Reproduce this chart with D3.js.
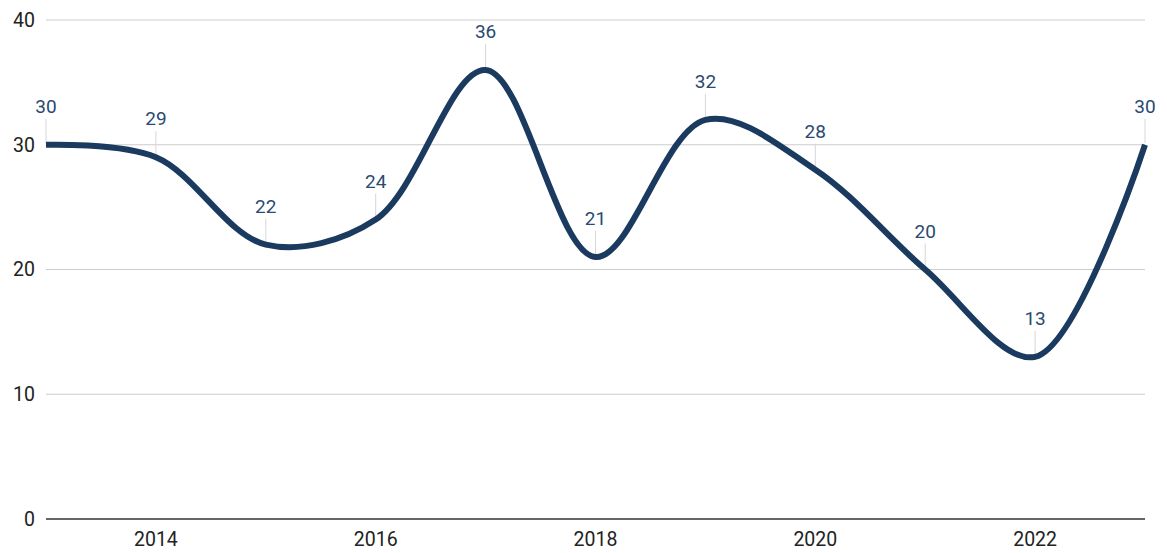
<!DOCTYPE html>
<html>
<head>
<meta charset="utf-8">
<script src="https://cdn.jsdelivr.net/npm/d3@7"></script>
<style>
  body { margin: 0; background: #fff; }
  text { font-family: Roboto, "Noto Sans", sans-serif; }
</style>
</head>
<body>
<svg id="chart" width="1167" height="553"></svg>
<script>
var years = [2013, 2014, 2015, 2016, 2017, 2018, 2019, 2020, 2021, 2022, 2023];
var values = [30, 29, 22, 24, 36, 21, 32, 28, 20, 13, 30];
var yTicks = [0, 10, 20, 30, 40];
var xTicks = [2014, 2016, 2018, 2020, 2022];

var width = 1167,
    height = 553,
    margin = {top: 20, right: 22, bottom: 34, left: 46};

var svg = d3.select("#chart");

var x = d3.scaleLinear()
  .domain([2013, 2023])
  .range([margin.left, width - margin.right]);

var y = d3.scaleLinear()
  .domain([0, 40])
  .range([height - margin.bottom, margin.top]);

// gridlines
svg.append("g")
  .selectAll("line")
  .data(yTicks.filter(d => d > 0))
  .join("line")
    .attr("x1", x(2013))
    .attr("x2", x(2023))
    .attr("y1", d => y(d))
    .attr("y2", d => y(d))
    .attr("stroke", "#cccccc")
    .attr("stroke-width", 1);

// y labels
svg.append("g")
  .selectAll("text")
  .data(yTicks)
  .join("text")
    .attr("x", margin.left - 11)
    .attr("y", d => y(d))
    .attr("dy", "0.35em")
    .attr("text-anchor", "end")
    .attr("fill", "#222")
    .attr("font-size", 19.5)
    .text(d => d);

// baseline
svg.append("line")
  .attr("x1", x(2013))
  .attr("x2", x(2023))
  .attr("y1", y(0))
  .attr("y2", y(0))
  .attr("stroke", "#333")
  .attr("stroke-width", 1.5);

// x labels
svg.append("g")
  .selectAll("text")
  .data(xTicks)
  .join("text")
    .attr("x", d => x(d))
    .attr("y", y(0) + 27)
    .attr("text-anchor", "middle")
    .attr("fill", "#222")
    .attr("font-size", 19.5)
    .text(d => d);

var pts = years.map((d, i) => [d, values[i]]);

// leader lines
svg.append("g")
  .selectAll("line")
  .data(pts)
  .join("line")
    .attr("x1", d => x(d[0]))
    .attr("x2", d => x(d[0]))
    .attr("y1", d => y(d[1]) - 2)
    .attr("y2", d => y(d[1]) - 26)
    .attr("stroke", "#d6d6d6")
    .attr("stroke-width", 1);

var line = d3.line()
  .x(d => x(d[0]))
  .y(d => y(d[1]))
  .curve(d3.curveCatmullRom.alpha(0.5));

svg.append("path")
  .datum(pts)
  .attr("d", line)
  .attr("fill", "none")
  .attr("stroke", "#1b3a5f")
  .attr("stroke-width", 6);

// data labels
svg.append("g")
  .selectAll("text")
  .data(pts)
  .join("text")
    .attr("x", d => x(d[0]))
    .attr("y", d => y(d[1]) - 32)
    .attr("text-anchor", "middle")
    .attr("fill", "#2a4a70")
    .attr("font-size", 19)
    .text(d => d[1]);
</script>
</body>
</html>
